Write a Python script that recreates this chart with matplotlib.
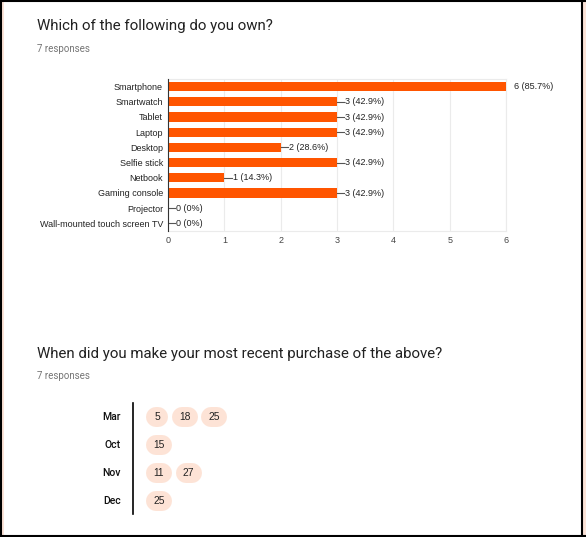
import matplotlib
matplotlib.use("Agg")
import matplotlib.pyplot as plt
from matplotlib.patches import Rectangle

# question 1
items = ["Smartphone", "Smartwatch", "Tablet", "Laptop", "Desktop", "Selfie stick",
         "Netbook", "Gaming console", "Projector", "Wall-mounted touch screen TV"]
counts = [6, 3, 3, 3, 2, 3, 1, 3, 0, 0]
n_responses = 7

# question 2
months = ["Mar", "Oct", "Nov", "Dec"]
days = [[5, 18, 25], [15], [11, 27], [25]]

W, H = 586, 537
BAR = "#ff5500"
PILL = "#fde3d6"

fig = plt.figure(figsize=(W / 100, H / 100), dpi=100)

# overlay in pixel coords for page decorations
bg = fig.add_axes([0, 0, 1, 1])
bg.set_xlim(0, W)
bg.set_ylim(H, 0)
bg.axis("off")
bg.add_patch(Rectangle((0, 0), 4, H, color="#fbe3d8", lw=0))
bg.add_patch(Rectangle((582, 0), 4, H, color="#fbe3d8", lw=0))
bg.plot([1, 1], [0, H], color="black", lw=1.5)
bg.plot([582, 582], [0, H], color="black", lw=1.5)
bg.plot([0, W], [1, 1], color="black", lw=1.5)
bg.plot([0, W], [535.5, 535.5], color="black", lw=1.5)

bg.text(37, 30, "Which of the following do you own?", fontsize=10.8,
        family="Roboto", color="#212121", va="baseline")
bg.text(37, 51.5, f"{n_responses} responses", fontsize=7,
        family="Roboto", color="#757575", va="baseline")
bg.text(37, 358, "When did you make your most recent purchase of the above?",
        fontsize=10.8, family="Roboto", color="#212121", va="baseline")
bg.text(37, 379, f"{n_responses} responses", fontsize=7,
        family="Roboto", color="#757575", va="baseline")

# bar chart
ax = fig.add_axes([168 / W, (H - 231) / H, (506 - 168) / W, (231 - 79) / H])
y = list(range(len(items)))
ax.barh(y, counts, height=0.6, color=BAR, zorder=3)
ax.set_xlim(0, 6)
ax.set_ylim(len(items) - 0.5, -0.5)
ax.set_yticks(y)
ax.set_yticklabels(items, fontsize=6.5, family="Liberation Sans", color="#222222")
ax.set_xticks(range(7))
ax.set_xticklabels([str(i) for i in range(7)], fontsize=6.5,
                   family="Liberation Sans", color="#444444")
ax.tick_params(length=0, pad=3.6)
ax.grid(axis="x", color="#ebebeb", lw=0.8, zorder=0)
for s in ["top", "right", "bottom"]:
    ax.spines[s].set_color("#ebebeb")
ax.spines["left"].set_color("#333333")
ax.spines["left"].set_zorder(4)
total = n_responses
for i, v in enumerate(counts):
    ax.plot([v, v + 0.13], [i, i], color="#555555", lw=0.8, zorder=4)
    pct = round(v / total * 100, 1)
    pct_s = f"{pct:g}"
    ax.text(v + 0.15, i, f"{v} ({pct_s}%)", fontsize=6.5, family="Liberation Sans",
            color="#222222", va="center", ha="left", clip_on=False)

# dot/pill chart for dates
row0, row_gap = 417, 28
x0, gap, ph = 146, 3.5, 20
bg.plot([132.5, 132.5], [403, 514], color="black", lw=1.2)
for r, (m, ds) in enumerate(zip(months, days)):
    yc = row0 + r * row_gap
    bg.text(121, yc, m, fontsize=7.6, family="Roboto", weight="medium",
            color="#111111", ha="right", va="center")
    x = x0
    for d in ds:
        w = 18 + 4 * len(str(d))
        bg.plot([x + ph / 2, x + w - ph / 2], [yc, yc], color=PILL,
                lw=ph * 0.72, solid_capstyle="round")
        bg.text(x + w / 2, yc, str(d), fontsize=7.4, family="Liberation Sans",
                color="#222222", ha="center", va="center")
        x += w + gap

fig.savefig("out.png", dpi=100)
